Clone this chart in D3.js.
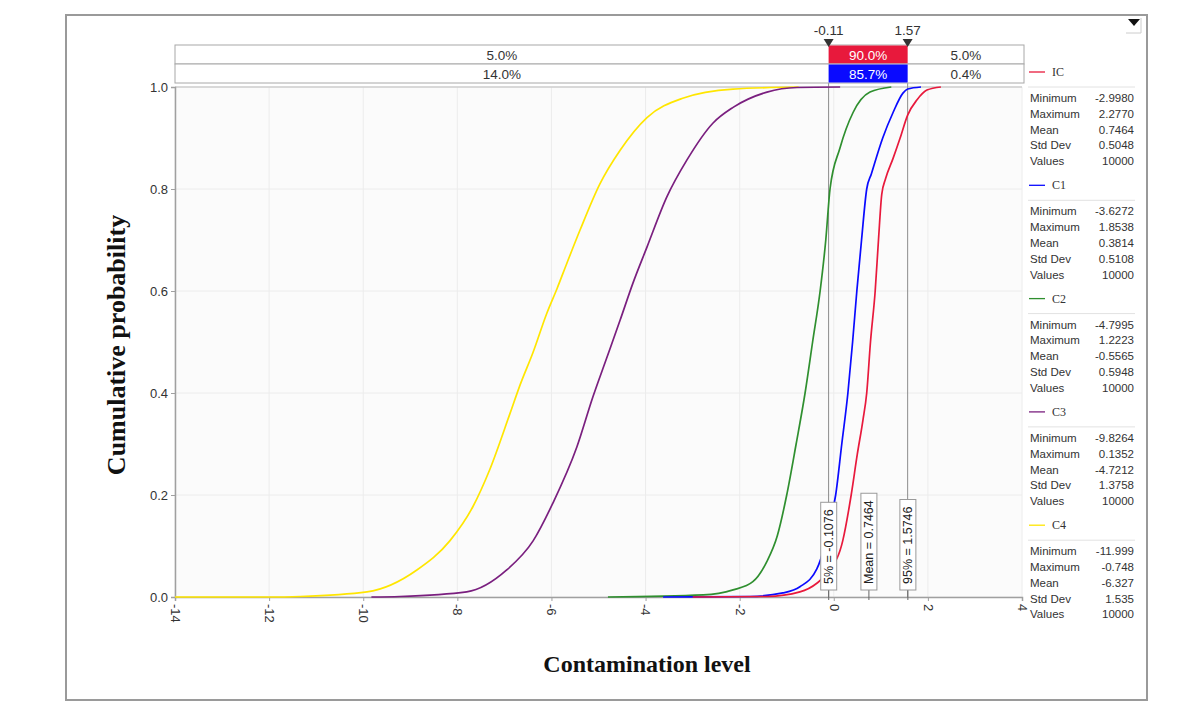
<!DOCTYPE html>
<html><head><meta charset="utf-8">
<script src="https://cdn.jsdelivr.net/npm/d3@7"></script>
<style>body{margin:0;background:#fff}svg{display:block}</style>
</head><body>
<svg id="c" width="1188" height="702"></svg>
<script>
// ---------- data ----------
const seriesNames = ["IC", "C1", "C2", "C3", "C4"];
const icX = [-2.998,-1.42,-0.72,-0.36,-0.11,0.19,0.37,0.5,0.62,0.70,0.78,0.88,0.95,1.02,1.1,1.26,1.41,1.57,1.77,1.98,2.277];
const icP = [0,0.001,0.01,0.027,0.05,0.11,0.2,0.28,0.347,0.4,0.5,0.6,0.7,0.79,0.82,0.86,0.9,0.945,0.975,0.994,1];
const c1X = [-3.6272,-1.78,-1.08,-0.72,-0.36,-0.2,-0.11,0.04,0.17,0.30,0.40,0.49,0.59,0.70,0.80,1.04,1.26,1.47,1.57,1.8538];
const c1P = [0,0.001,0.008,0.02,0.055,0.1,0.14,0.2,0.3,0.4,0.5,0.6,0.7,0.8,0.83,0.9,0.95,0.988,0.996,1];
const c2X = [-4.7995,-2.77,-2.14,-1.72,-1.42,-1.2,-1.0,-0.8,-0.61,-0.45,-0.29,-0.17,-0.08,0.13,0.41,0.77,1.2223];
const c2P = [0,0.004,0.014,0.03,0.07,0.12,0.2,0.3,0.4,0.5,0.6,0.7,0.8,0.88,0.95,0.99,1];
const c3X = [-9.8264,-9.22,-7.8,-6.95,-6.39,-5.97,-5.46,-5.12,-4.82,-4.54,-4.27,-3.97,-3.55,-3.12,-2.57,-2.14,-1.42,-0.78,0.1352];
const c3P = [0,0.001,0.01,0.053,0.11,0.184,0.294,0.392,0.47,0.543,0.615,0.686,0.784,0.857,0.929,0.96,0.99,0.999,1];
const c4X = [-14,-11.999,-11.34,-9.92,-8.86,-8.16,-7.67,-7.31,-6.88,-6.67,-6.39,-6.10,-5.88,-5.67,-5.39,-4.97,-4.54,-3.97,-3.21,-2.14,-0.748];
const c4P = [0,0,0.001,0.01,0.053,0.11,0.177,0.25,0.36,0.415,0.48,0.556,0.605,0.655,0.72,0.81,0.876,0.94,0.978,0.996,1];

const statLabels = ["Minimum", "Maximum", "Mean", "Std Dev", "Values"];
const icStats = ["-2.9980", "2.2770", "0.7464", "0.5048", "10000"];
const c1Stats = ["-3.6272", "1.8538", "0.3814", "0.5108", "10000"];
const c2Stats = ["-4.7995", "1.2223", "-0.5565", "0.5948", "10000"];
const c3Stats = ["-9.8264", "0.1352", "-4.7212", "1.3758", "10000"];
const c4Stats = ["-11.999", "-0.748", "-6.327", "1.535", "10000"];

const xTicks = [-14, -12, -10, -8, -6, -4, -2, 0, 2, 4];
const yTicks = [0, 0.2, 0.4, 0.6, 0.8, 1.0];

const lowerBound = -0.11, upperBound = 1.57;
const boundLabels = ["-0.11", "1.57"];
const markerValues = [-0.1076, 0.7464, 1.5746];
const markerLabels = ["5% = -0.1076", "Mean = 0.7464", "95% = 1.5746"];
const bandRow1 = ["5.0%", "90.0%", "5.0%"];
const bandRow2 = ["14.0%", "85.7%", "0.4%"];

const colors = {IC:"#e8193c", C1:"#0a0aff", C2:"#2f8f2f", C3:"#7a1f7f", C4:"#ffe600"};

// ---------- drawing ----------
const svg = d3.select("#c");
const L = 175, R = 1022, T = 87, B = 597;
const x = d3.scaleLinear().domain([-14, 4]).range([L, R]);
const y = d3.scaleLinear().domain([0, 1]).range([B, T]);
const FONT = "Liberation Sans, sans-serif";

// outer frame
svg.append("rect").attr("x", 66).attr("y", 15).attr("width", 1081).attr("height", 685)
  .attr("fill", "#fff").attr("stroke", "#9a9a9a").attr("stroke-width", 2);

// plot background
svg.append("rect").attr("x", L).attr("y", T).attr("width", R - L).attr("height", B - T).attr("fill", "#fbfbfb");

// grid
svg.append("g").selectAll("line").data(xTicks).join("line")
  .attr("x1", d => x(d)).attr("x2", d => x(d)).attr("y1", T).attr("y2", B)
  .attr("stroke", "#ececec");
svg.append("g").selectAll("line").data(yTicks).join("line")
  .attr("x1", L).attr("x2", R).attr("y1", d => y(d)).attr("y2", d => y(d))
  .attr("stroke", "#ececec");
svg.append("line").attr("x1", L).attr("x2", R).attr("y1", T).attr("y2", T).attr("stroke", "#bdbdbd");

// axes
const xa = svg.append("g").attr("transform", `translate(0,${B})`)
  .call(d3.axisBottom(x).tickValues(xTicks).tickSize(4).tickFormat(d => String(d)));
xa.selectAll("text").attr("transform", "rotate(90)").attr("x", 7).attr("y", 0).attr("dy", "0.35em")
  .style("text-anchor", "start");
const ya = svg.append("g").attr("transform", `translate(${L},0)`)
  .call(d3.axisLeft(y).tickValues(yTicks).tickSize(4).tickFormat(d => d.toFixed(1)));
[xa, ya].forEach(a => {
  a.select(".domain").attr("stroke", "#a0a0a0").attr("stroke-width", 1.5);
  a.selectAll(".tick line").attr("stroke", "#a0a0a0");
  a.selectAll("text").attr("fill", "#333").style("font-family", FONT).style("font-size", "13px");
});

// bound lines
svg.append("g").selectAll("line").data([lowerBound, upperBound]).join("line")
  .attr("x1", d => x(d)).attr("x2", d => x(d)).attr("y1", 40).attr("y2", B)
  .attr("stroke", "#8c8c8c").attr("stroke-width", 1);

// curves
const line = d3.line().x(d => x(d[0])).y(d => y(d[1])).curve(d3.curveMonotoneX);
const seriesData = [
  ["C4", c4X, c4P], ["C3", c3X, c3P], ["C2", c2X, c2P], ["C1", c1X, c1P], ["IC", icX, icP]
];
svg.append("g").selectAll("path").data(seriesData).join("path")
  .attr("d", d => line(d[1].map((v, i) => [v, d[2][i]])))
  .attr("fill", "none").attr("stroke", d => colors[d[0]]).attr("stroke-width", 1.7);

// marker labels (rotated boxes)
const mk = svg.append("g").selectAll("g").data(markerValues).join("g")
  .attr("transform", d => `translate(${x(d)},${B})`);
mk.append("line").attr("y1", -8).attr("y2", 3).attr("stroke", "#666");
mk.each(function(d, i) {
  const g = d3.select(this);
  const t = g.append("text").text(markerLabels[i])
    .attr("transform", "rotate(-90)").attr("x", 13).attr("y", 0).attr("dy", "0.36em")
    .style("font-family", FONT).style("font-size", "12.5px").attr("fill", "#222");
  const w = t.node().getComputedTextLength();
  g.insert("rect", "text").attr("x", -8).attr("y", -(w + 20)).attr("width", 16).attr("height", w + 13)
    .attr("fill", "#fff").attr("stroke", "#9a9a9a");
});

// top band rows
const bandX0 = L, bandX1 = 1024;
const rows = [[45, bandRow1, colors.IC], [64, bandRow2, colors.C1]];
const bandG = svg.append("g");
rows.forEach(([ry, labels, col]) => {
  bandG.append("rect").attr("x", bandX0).attr("y", ry).attr("width", bandX1 - bandX0).attr("height", 19)
    .attr("fill", "#fff").attr("stroke", "#a8a8a8");
  bandG.append("rect").attr("x", x(lowerBound)).attr("y", ry + 0.5).attr("width", x(upperBound) - x(lowerBound)).attr("height", 18)
    .attr("fill", col);
  const centers = [(bandX0 + x(lowerBound)) / 2, (x(lowerBound) + x(upperBound)) / 2, (x(upperBound) + bandX1) / 2];
  labels.forEach((lab, i) => {
    bandG.append("text").text(lab).attr("x", centers[i]).attr("y", ry + 14.5).attr("text-anchor", "middle")
      .style("font-family", FONT).style("font-size", "13.5px")
      .attr("fill", i === 1 ? "#fff" : "#333");
  });
});

// bound markers at top
const bm = svg.append("g").selectAll("g").data([lowerBound, upperBound]).join("g")
  .attr("transform", d => `translate(${x(d)},0)`);
bm.append("path").attr("d", "M-5,39 L5,39 L0,47 Z").attr("fill", "#333");
bm.append("text").text((d, i) => boundLabels[i]).attr("y", 35).attr("text-anchor", "middle")
  .style("font-family", FONT).style("font-size", "13.5px").attr("fill", "#333");

// legend
const lg = svg.append("g");
const allStats = [icStats, c1Stats, c2Stats, c3Stats, c4Stats];
seriesNames.forEach((name, i) => {
  const y0 = 72 + i * 113.3;
  lg.append("line").attr("x1", 1029).attr("x2", 1045).attr("y1", y0).attr("y2", y0)
    .attr("stroke", colors[name]).attr("stroke-width", 1.3);
  lg.append("text").text(name).attr("x", 1052).attr("y", y0 + 4)
    .style("font-family", "Liberation Serif, serif").style("font-size", "12px").attr("fill", "#333");
  lg.append("line").attr("x1", 1028).attr("x2", 1135).attr("y1", y0 + 15).attr("y2", y0 + 15)
    .attr("stroke", "#e2e2e2");
  statLabels.forEach((s, j) => {
    const yy = y0 + 30 + j * 15.8;
    lg.append("text").text(s).attr("x", 1030).attr("y", yy)
      .style("font-family", FONT).style("font-size", "11.5px").attr("fill", "#333");
    lg.append("text").text(allStats[i][j]).attr("x", 1134).attr("y", yy).attr("text-anchor", "end")
      .style("font-family", FONT).style("font-size", "11.5px").attr("fill", "#333");
  });
});

// top-right icon
svg.append("path").attr("d", "M1128,19 L1140,19 L1134,26 Z").attr("fill", "#111");
svg.append("path").attr("d", "M1141,18 L1141,33 L1126,33").attr("fill", "none").attr("stroke", "#ccc");

// axis titles
svg.append("text").text("Cumulative probability")
  .attr("transform", "translate(125,345) rotate(-90)").attr("text-anchor", "middle")
  .style("font-family", "Liberation Serif, serif").style("font-weight", "bold").style("font-size", "26px").attr("fill", "#111");
svg.append("text").text("Contamination level").attr("x", 647).attr("y", 672).attr("text-anchor", "middle")
  .style("font-family", "Liberation Serif, serif").style("font-weight", "bold").style("font-size", "24px").attr("fill", "#111");
</script>
</body></html>
